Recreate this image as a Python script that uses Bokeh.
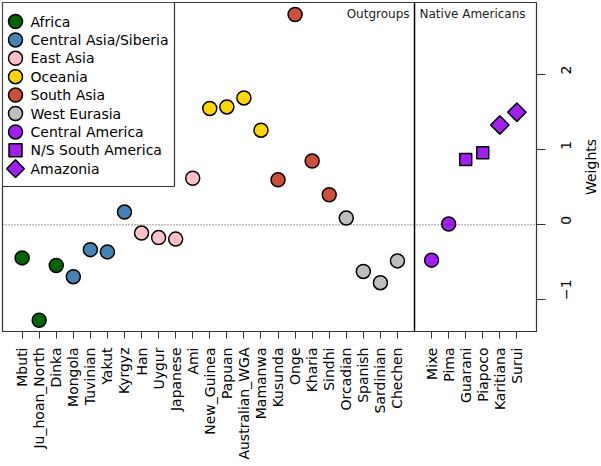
import math
from bokeh.plotting import figure
from bokeh.layouts import row
from bokeh.models import Range1d, FixedTicker, Span, Label, ColumnDataSource
from bokeh.core.properties import value
from bokeh.embed import file_html
from bokeh.resources import INLINE

# ---- data ----
outgroup_names = ["Mbuti", "Ju_hoan_North", "Dinka", "Mongola", "Tuvinian", "Yakut", "Kyrgyz",
                  "Han", "Uygur", "Japanese", "Ami", "New_Guinea", "Papuan", "Australian_WGA",
                  "Mamanwa", "Kusunda", "Onge", "Kharia", "Sindhi", "Orcadian", "Spanish",
                  "Sardinian", "Chechen"]
outgroup_weights = [-0.44, -1.27, -0.54, -0.69, -0.33, -0.36, 0.17,
                    -0.11, -0.17, -0.19, 0.62, 1.55, 1.57, 1.69,
                    1.26, 0.60, 2.80, 0.85, 0.40, 0.09, -0.62,
                    -0.77, -0.48]
outgroup_regions = ["Africa", "Africa", "Africa",
                    "Central Asia/Siberia", "Central Asia/Siberia", "Central Asia/Siberia", "Central Asia/Siberia",
                    "East Asia", "East Asia", "East Asia", "East Asia",
                    "Oceania", "Oceania", "Oceania", "Oceania",
                    "South Asia", "South Asia", "South Asia", "South Asia",
                    "West Eurasia", "West Eurasia", "West Eurasia", "West Eurasia"]

native_names = ["Mixe", "Pima", "Guarani", "Piapoco", "Karitiana", "Surui"]
native_weights = [-0.47, 0.01, 0.87, 0.96, 1.33, 1.50]
native_regions = ["Central America", "Central America", "N/S South America", "N/S South America",
                  "Amazonia", "Amazonia"]

y_ticks = [-1, 0, 1, 2]

legend_order = ["Africa", "Central Asia/Siberia", "East Asia", "Oceania", "South Asia",
                "West Eurasia", "Central America", "N/S South America", "Amazonia"]
region_colors = {"Africa": "#006400", "Central Asia/Siberia": "#4682B4", "East Asia": "#FFC0CB",
                 "Oceania": "#FFD700", "South Asia": "#CD4F39", "West Eurasia": "#BEBEBE",
                 "Central America": "#A020F0", "N/S South America": "#A020F0", "Amazonia": "#A020F0"}
region_markers = {"N/S South America": "square", "Amazonia": "square"}
region_angles = {"Amazonia": math.pi / 4}
region_sizes = {"N/S South America": 12, "Amazonia": 13}

# positions: outgroups 1..n, a gap, then the Native Americans
n_out = len(outgroup_names)
out_x = list(range(1, n_out + 1))
sep_x = n_out + 1
nat_x = list(range(n_out + 2, n_out + 2 + len(native_names)))

all_x = out_x + nat_x
all_names = outgroup_names + native_names
all_w = outgroup_weights + native_weights
all_r = outgroup_regions + native_regions

FONT = "DejaVu Sans"
FW, FH = 534, 329   # frame size in px

p = figure(frame_width=FW, frame_height=FH, x_range=Range1d(-0.15, nat_x[-1] + 1.15),
           y_range=Range1d(-1.42, 2.96), y_axis_location="right",
           output_backend="svg", toolbar_location=None,
           min_border_left=2, min_border_top=2, min_border_right=0, min_border_bottom=2)
p.xgrid.visible = False
p.ygrid.visible = False
p.outline_line_color = "#333333"
p.outline_line_width = 1.2
p.background_fill_color = "white"
p.border_fill_color = "white"
# pixel-unit ranges for the legend box
p.extra_x_ranges = {"px": Range1d(0, FW)}
p.extra_y_ranges = {"px": Range1d(0, FH)}

# reference lines
p.add_layout(Span(location=0, dimension="width", line_color="#333333", line_width=1,
                  line_dash="1 2"))
p.add_layout(Span(location=sep_x, dimension="height", line_color="black", line_width=1.5))

for reg in legend_order:
    xs = [x for x, r in zip(all_x, all_r) if r == reg]
    ys = [w for w, r in zip(all_w, all_r) if r == reg]
    src = ColumnDataSource(dict(x=xs, y=ys))
    p.scatter("x", "y", source=src, marker=region_markers.get(reg, "circle"),
              size=region_sizes.get(reg, 14), angle=region_angles.get(reg, 0.0),
              fill_color=region_colors[reg], line_color="black", line_width=1.5)

# ---- legend (drawn in pixel units, top-left of the frame) ----
row_h, first_row, box_w, box_h = 18.4, 19, 172, 184
n_leg = len(legend_order)
leg_y = [FH - (first_row + row_h * i) for i in range(n_leg)]
p.quad(left=[0], right=[box_w], top=[FH], bottom=[FH - box_h], x_range_name="px", y_range_name="px",
       fill_color="white", line_color="#333333", line_width=1.2)
leg_src = ColumnDataSource(dict(
    x=[13] * n_leg, y=leg_y, tx=[28] * n_leg, label=legend_order,
    marker=[region_markers.get(r, "circle") for r in legend_order],
    angle=[region_angles.get(r, 0.0) for r in legend_order],
    size=[{"N/S South America": 13, "Amazonia": 12.5}.get(r, 14) for r in legend_order],
    color=[region_colors[r] for r in legend_order]))
p.scatter("x", "y", source=leg_src, marker="marker", angle="angle", size="size",
          fill_color="color", line_color="black", line_width=1.5,
          x_range_name="px", y_range_name="px")
p.text("tx", "y", text="label", source=leg_src, x_range_name="px", y_range_name="px",
       text_font=value(FONT), text_font_size=value("14px"), text_baseline="middle",
       text_align="left", text_color="black")

# x axis
xa = p.xaxis[0]
xa.ticker = FixedTicker(ticks=all_x)
xa.major_label_overrides = {x: n for x, n in zip(all_x, all_names)}
xa.major_label_orientation = math.pi / 2
xa.major_label_text_font = FONT
xa.major_label_text_font_size = "14px"
xa.major_label_text_color = "black"
xa.major_label_standoff = 9
xa.major_tick_out = 7
xa.major_tick_in = 0
xa.minor_tick_out = 0
xa.minor_tick_in = 0
xa.major_tick_line_color = "#333333"
xa.axis_line_color = None

# y axis (right)
ya = p.yaxis[0]
ya.ticker = FixedTicker(ticks=y_ticks)
ya.major_label_orientation = math.pi / 2
ya.major_label_text_font = FONT
ya.major_label_text_font_size = "14px"
ya.major_label_text_color = "black"
ya.major_label_standoff = 21
ya.major_tick_out = 9
ya.major_tick_in = 0
ya.minor_tick_out = 0
ya.minor_tick_in = 0
ya.major_tick_line_color = "#333333"
ya.axis_line_color = None

# section titles
p.add_layout(Label(x=sep_x, y=2.96, x_offset=-5, y_offset=-4, text="Outgroups",
                   text_align="right", text_baseline="top", text_font=FONT,
                   text_font_size="12px", text_color="#222222"))
p.add_layout(Label(x=sep_x, y=2.96, x_offset=5, y_offset=-4, text="Native Americans",
                   text_align="left", text_baseline="top", text_font=FONT,
                   text_font_size="12px", text_color="#222222"))

# side strip carrying the "Weights" title, read bottom-to-top like the reference
side = figure(frame_width=1, frame_height=FH, x_range=Range1d(0, 1), y_range=p.y_range,
              x_axis_location=None, y_axis_location="left",
              output_backend="svg", toolbar_location=None,
              min_border_left=0, min_border_top=2, min_border_right=0, min_border_bottom=2)
side.xgrid.visible = False
side.ygrid.visible = False
side.outline_line_color = None
side.background_fill_color = "white"
side.border_fill_color = "white"
sa = side.yaxis[0]
sa.ticker = FixedTicker(ticks=[])
sa.major_tick_out = 0
sa.major_tick_in = 0
sa.minor_tick_out = 0
sa.minor_tick_in = 0
sa.axis_line_color = None
sa.major_label_text_font_size = "0px"
sa.axis_label = "Weights"
sa.axis_label_text_font = FONT
sa.axis_label_text_font_size = "14px"
sa.axis_label_text_font_style = "normal"
sa.axis_label_text_color = "black"
sa.axis_label_standoff = 0

open("out.html", "w").write(file_html(row(p, side), INLINE))
